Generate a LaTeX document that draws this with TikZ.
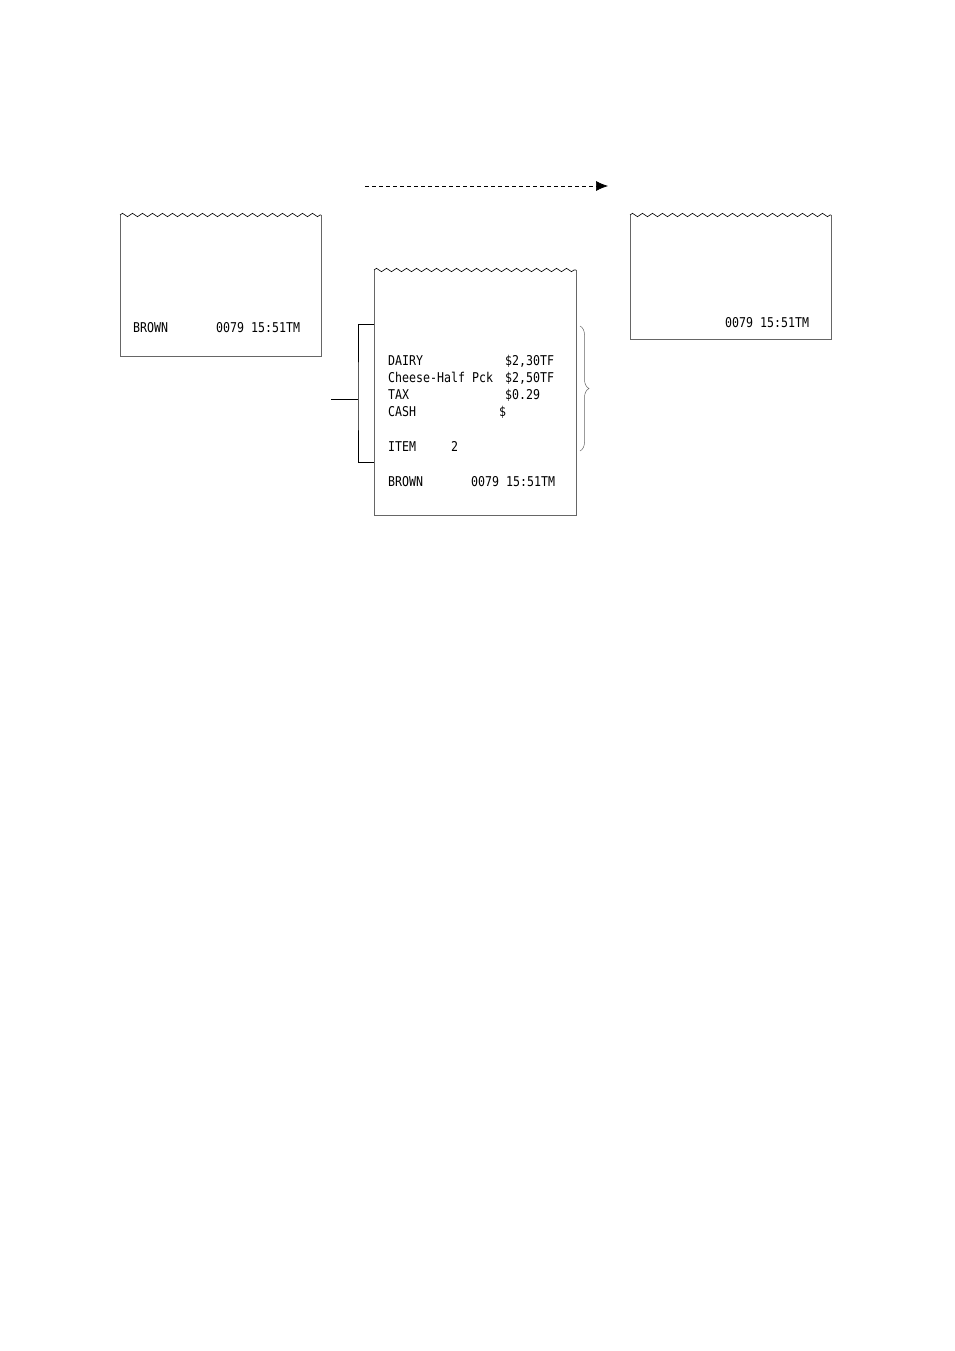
\documentclass[tikz,border=0pt]{standalone}
\usepackage{fontspec}
\newfontfamily\tillfont{DejaVu Sans Mono}[FakeStretch=0.86]
\usetikzlibrary{arrows.meta,calc,positioning,decorations.pathmorphing,decorations.pathreplacing}
\tikzset{>=latex,
  paper/.style={line width=0.9pt,draw=black!60},
  tear/.style={decorate,decoration={zigzag,segment length=10pt,amplitude=1.7pt},line width=0.6pt},
  till/.style={font=\tillfont\fontsize{13.5}{15}\selectfont,inner sep=0pt,anchor=base west},
  feed/.style={dash pattern=on 4pt off 3pt,line width=0.7pt,-{Latex[length=12pt,width=10pt]}},
  bracket/.style={line width=0.8pt},
  span/.style={decorate,decoration={brace,amplitude=9pt},line width=0.5pt,draw=black!60}
}
\begin{document}
\begin{tikzpicture}[x=1pt,y=-1pt]
\useasboundingbox (0,0) rectangle (954,1351);

% paper feed
\coordinate (fs) at (365,186);
\coordinate (fe) at (608,186);
\draw[feed] (fs) -- (fe);

% first slip
\coordinate (a1) at (120,215); \coordinate (a2) at (321,215);
\draw[paper] (a1) -- (120,356) -- (321,356) -- (a2);
\draw[tear] (a1) -- (a2);
\node[till] (brownA) at (133,332) {BROWN};
\node[till] (timeA) at (216,332) {0079 15:51TM};

% second slip
\coordinate (b1) at (374,270); \coordinate (b2) at (576,270);
\draw[paper] (b1) -- (374,515) -- (576,515) -- (b2);
\draw[tear] (b1) -- (b2);
\node[till] (dairy) at (388,365) {DAIRY};
\node[till] (dairyP) at (505,365) {\$2,30TF};
\node[till] (cheese) at (388,382) {Cheese-Half Pck};
\node[till] (cheeseP) at (505,382) {\$2,50TF};
\node[till] (tax) at (388,399) {TAX};
\node[till] (taxP) at (505,399) {\$0.29};
\node[till] (cash) at (388,416) {CASH};
\node[till] (cashP) at (499,416) {\$};
\node[till] (item) at (388,451) {ITEM};
\node[till] (itemN) at (451,451) {2};
\node[till] (brownB) at (388,486) {BROWN};
\node[till] (timeB) at (471,486) {0079 15:51TM};

% bracket on the left
\coordinate (kt) at (374,324);
\coordinate (kb) at (374,462);
\coordinate (km) at (358,399);
\coordinate (kl) at (331,399);
\draw[bracket] (kt) -| (km) |- (kb);
\draw[bracket] (kl) -- (km);

% brace on the right
\coordinate (rt) at (580,326);
\coordinate (rb) at (580,451);
\draw[span] (rt) -- (rb);

% third slip
\coordinate (c1) at (630,215); \coordinate (c2) at (831,215);
\draw[paper] (c1) -- (630,339) -- (831,339) -- (c2);
\draw[tear] (c1) -- (c2);
\node[till] (timeC) at (725,327) {0079 15:51TM};
\end{tikzpicture}
\end{document}
